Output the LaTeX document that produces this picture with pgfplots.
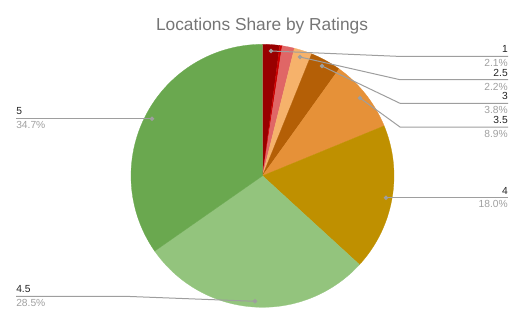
\documentclass[border=0pt]{standalone}
\usepackage{pgfplots}
\pgfplotsset{compat=1.18}
\usepackage{fontspec}
\setmainfont{Liberation Sans}
\definecolor{c1}{HTML}{990000}
\definecolor{c15}{HTML}{CC0000}
\definecolor{c2}{HTML}{E06666}
\definecolor{c25}{HTML}{F6B26B}
\definecolor{c3}{HTML}{B45F06}
\definecolor{c35}{HTML}{E69138}
\definecolor{c4}{HTML}{BF9000}
\definecolor{c45}{HTML}{93C47D}
\definecolor{c5}{HTML}{6AA84F}
\definecolor{titlegray}{HTML}{757575}
\definecolor{pctgray}{HTML}{A0A0A0}
\definecolor{leadgray}{HTML}{9E9E9E}
\definecolor{labelblack}{HTML}{222222}
\tikzset{
  leader/.style={leadgray, line width=0.75pt, mark=*, mark size=1.3pt, mark indices={1},
    mark options={fill=leadgray, draw=leadgray}},
  lab/.style={font=\fontsize{7.7pt}{9pt}\selectfont, text=labelblack, inner sep=0pt},
  pct/.style={font=\fontsize{7.7pt}{9pt}\selectfont, text=pctgray, inner sep=0pt},
}
% pie centre (262.5,175.8) and radius 131.5 in pixel units; slices from cumulative percentages
\newcommand{\slice}[3]{%
  \addplot[draw=#3, line width=0.2pt, fill=#3, domain={3.6*(#1)}:{3.6*(#2)}, samples=60, variable=\t]
    ({262.5+131.5*sin(\t)},{175.8-131.5*cos(\t)}) -- (axis cs:262.5,175.8) -- cycle;}
\begin{document}
\begin{tikzpicture}
\begin{axis}[
  scale only axis, width=393.75pt, height=243.75pt,
  xmin=0, xmax=525, ymin=0, ymax=325, y dir=reverse,
  hide axis, clip=false,
]
\path (rel axis cs:0,0) rectangle (rel axis cs:1,1);
% slices: rating 1, 1.5, 2, 2.5, 3, 3.5, 4, 4.5, 5 with shares 2.1, 0.3, 1.5, 2.2, 3.8, 8.9, 18.0, 28.5, 34.7
\slice{0}{2.1}{c1}
\slice{2.1}{2.4}{c15}
\slice{2.4}{3.9}{c2}
\slice{3.9}{6.1}{c25}
\slice{6.1}{9.9}{c3}
\slice{9.9}{18.8}{c35}
\slice{18.8}{36.8}{c4}
\slice{36.8}{65.3}{c45}
\slice{65.3}{100}{c5}
% leader lines
\addplot[leader] coordinates {(271,51) (397,56.3) (508,56.3)};
\addplot[leader] coordinates {(300,57) (400,79.7) (508,79.7)};
\addplot[leader] coordinates {(322,66) (400,103.3) (508,103.3)};
\addplot[leader] coordinates {(360,98) (400,127) (508,127)};
\addplot[leader] coordinates {(386,197.7) (508,197.7)};
\addplot[leader] coordinates {(152,118.7) (16,118.7)};
\addplot[leader] coordinates {(255,301.3) (125,296.3) (16,296.3)};
% labels
\node[lab, anchor=base east] at (axis cs:508,52.3) {1};
\node[pct, anchor=base east] at (axis cs:508,66.7) {2.1\%};
\node[lab, anchor=base east] at (axis cs:508,76.2) {2.5};
\node[pct, anchor=base east] at (axis cs:508,90.2) {2.2\%};
\node[lab, anchor=base east] at (axis cs:508,99.8) {3};
\node[pct, anchor=base east] at (axis cs:508,113.7) {3.8\%};
\node[lab, anchor=base east] at (axis cs:508,123.5) {3.5};
\node[pct, anchor=base east] at (axis cs:508,137.3) {8.9\%};
\node[lab, anchor=base east] at (axis cs:508,194) {4};
\node[pct, anchor=base east] at (axis cs:508,207.5) {18.0\%};
\node[lab, anchor=base west] at (axis cs:16,114.5) {5};
\node[pct, anchor=base west] at (axis cs:16,128.3) {34.7\%};
\node[lab, anchor=base west] at (axis cs:16,292.5) {4.5};
\node[pct, anchor=base west] at (axis cs:16,306.5) {28.5\%};
% title
\node[anchor=base, inner sep=0pt, text=titlegray, font=\fontsize{13pt}{15pt}\selectfont] at (axis cs:262,30.7) {Locations Share by Ratings};
\end{axis}
\end{tikzpicture}
\end{document}
